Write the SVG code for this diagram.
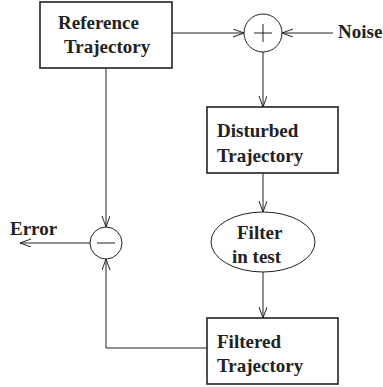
<svg xmlns="http://www.w3.org/2000/svg" width="383" height="387" viewBox="0 0 383 387">
<style>
.box{fill:#fff;stroke:#222;stroke-width:1.6}
.op{fill:#fff;stroke:#222;stroke-width:1}
.t{font-family:"Liberation Serif","Times New Roman",serif;font-weight:bold;font-size:19px;fill:#222}
.c{fill:none;stroke:#222;stroke-width:1;marker-end:url(#a)}
</style>
<defs>
<marker id="a" markerUnits="userSpaceOnUse" markerWidth="14" markerHeight="10" refX="11" refY="4" orient="auto">
<path d="M0,0 L11,4 L0,8" fill="none" stroke="#222" stroke-width="1"/>
</marker>
</defs>
<g id="connectors">
<path class="c" d="M172,33 H244"/>
<path class="c" d="M333,33 H282"/>
<path class="c" d="M263,52 V107"/>
<path class="c" d="M263,173 V212"/>
<path class="c" d="M263,272 V318"/>
<path class="c" d="M106,68 V227"/>
<path class="c" d="M207,348 H106 V259"/>
<path class="c" d="M90,243 H20"/>
</g>
<g id="reference">
<rect class="box" x="40" y="2" width="132" height="66"/>
<text class="t" x="58" y="29">Reference</text>
<text class="t" x="64" y="53">Trajectory</text>
</g>
<g id="plus">
<circle class="op" cx="263" cy="33" r="19"/>
<path d="M254,33 H272 M263,24 V42" stroke="#222" stroke-width="1"/>
</g>
<g id="noise">
<text class="t" x="338" y="38">Noise</text>
</g>
<g id="disturbed">
<rect class="box" x="207" y="107" width="131" height="66"/>
<text class="t" x="217" y="137">Disturbed</text>
<text class="t" x="217" y="162">Trajectory</text>
</g>
<g id="filter">
<ellipse class="op" cx="263" cy="242" rx="52" ry="30"/>
<text class="t" x="237" y="239">Filter</text>
<text class="t" x="232" y="263">in test</text>
</g>
<g id="filtered">
<rect class="box" x="207" y="318" width="131" height="66"/>
<text class="t" x="217" y="348">Filtered</text>
<text class="t" x="217" y="372">Trajectory</text>
</g>
<g id="minus">
<circle class="op" cx="106" cy="243" r="16"/>
<path d="M97,243 H115" stroke="#222" stroke-width="1"/>
</g>
<g id="error">
<text class="t" x="10" y="235">Error</text>
</g>
</svg>
